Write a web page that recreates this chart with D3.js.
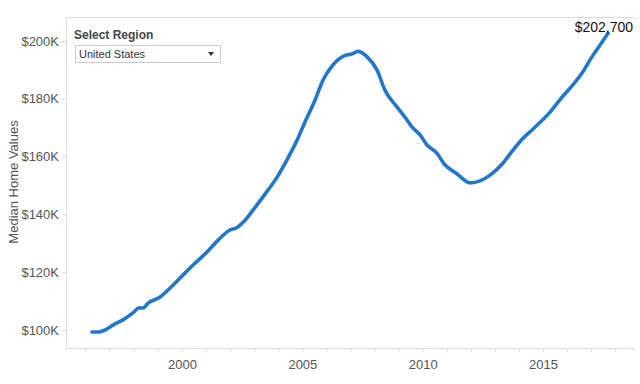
<!DOCTYPE html>
<html><head><meta charset="utf-8">
<script src="https://cdn.jsdelivr.net/npm/d3@7"></script>
<style>body{margin:0;background:#fff;}svg{display:block;font-family:"Liberation Sans",Arial,sans-serif;}</style>
</head><body><svg id="c" width="640" height="384"></svg>
<script>
const dates = [1996.26,1996.51,1996.80,1997.13,1997.55,1997.96,1998.21,1998.38,1998.59,1999.09,1999.50,1999.92,2000.46,2001.04,2001.50,2001.99,2002.25,2002.60,2002.95,2003.45,2003.95,2004.40,2004.78,2005.11,2005.53,2005.86,2006.27,2006.77,2007.06,2007.31,2007.69,2008.10,2008.43,2008.93,2009.25,2009.56,2009.89,2010.18,2010.59,2010.88,2011.43,2011.97,2012.38,2012.80,2013.34,2013.70,2014.13,2014.54,2015.29,2015.79,2016.24,2016.62,2017.03,2017.37,2017.70];
const values = [99300,99300,100000,101700,103500,105900,107600,107600,109300,111400,114500,118000,122500,127000,131100,134600,135300,137800,141500,147000,152900,159500,165700,172000,179600,186500,191700,195000,195500,196400,194500,190000,183000,177200,173800,170200,167500,164000,161200,157600,154000,150900,151600,153600,157800,161700,166000,169200,175400,180600,184800,188900,194500,198600,202700];
const yTicks = [100000,120000,140000,160000,180000,200000];
const xTicks = [2000,2005,2010,2015];
const minorTicks = d3.range(1996,2019);
const lastLabel = "$202,700";

const svg = d3.select("#c");
const L=66,R=635,T=17,B=348;
const x = d3.scaleLinear().domain([1995.18,2018.82]).range([L,R]);
const y = d3.scaleLinear().domain([93770,208300]).range([B,T]);

// frame
svg.append("line").attr("x1",L).attr("x2",R).attr("y1",T+0.5).attr("y2",T+0.5).attr("stroke","#ddd");
svg.append("line").attr("x1",L+0.5).attr("x2",L+0.5).attr("y1",T).attr("y2",B).attr("stroke","#ddd");
svg.append("line").attr("x1",L).attr("x2",R).attr("y1",B+0.5).attr("y2",B+0.5).attr("stroke","#ddd");

// y axis
const ya = svg.append("g").attr("transform",`translate(${L},0)`)
  .call(d3.axisLeft(y).tickValues(yTicks).tickSize(4).tickPadding(3).tickFormat(d=>"$"+d/1000+"K"));
ya.select(".domain").remove();
ya.selectAll("line").attr("stroke","#ddd");
ya.selectAll("text").attr("fill","#555").style("font-size","13px");

// x axis
const xa = svg.append("g").attr("transform",`translate(0,${B})`)
  .call(d3.axisBottom(x).tickValues(minorTicks).tickSize(4).tickFormat(d=>xTicks.includes(d)?d:""));
xa.select(".domain").remove();
xa.selectAll("line").attr("stroke","#ddd");
xa.selectAll("text").attr("fill","#555").style("font-size","13px").attr("dy","1.1em");

svg.append("text").attr("transform","translate(18,182) rotate(-90)").attr("text-anchor","middle")
  .attr("fill","#555").style("font-size","13px").text("Median Home Values");

// line
const data = dates.map((d,i)=>({d,v:values[i]}));
svg.append("path").datum(data).attr("fill","none").attr("stroke","#2277cc").attr("stroke-width",3.6)
  .attr("stroke-linejoin","round").attr("stroke-linecap","round")
  .attr("d",d3.line().x(p=>x(p.d)).y(p=>y(p.v)).curve(d3.curveMonotoneX));

const last = data[data.length-1];
svg.append("text").attr("x",x(last.d)+25).attr("y",y(last.v)-1).attr("text-anchor","end")
  .attr("fill","#111").style("font-size","14px").text(lastLabel);

// filter control
svg.append("text").attr("x",74).attr("y",39).attr("fill","#444").style("font-size","12px").style("font-weight","bold").text("Select Region");
svg.append("rect").attr("x",75.5).attr("y",45.5).attr("width",145).attr("height",17).attr("fill","#fff").attr("stroke","#ccc");
svg.append("text").attr("x",79).attr("y",58).attr("fill","#333").style("font-size","11px").text("United States");
svg.append("path").attr("d","M208,52 L214,52 L211,56 Z").attr("fill","#333");
</script></body></html>
